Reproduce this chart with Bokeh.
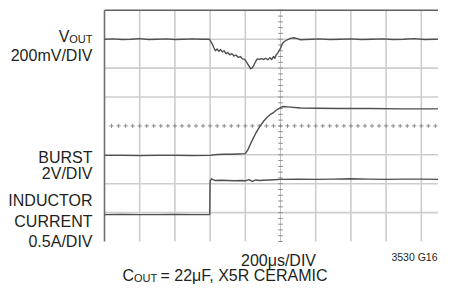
from bokeh.plotting import figure
from bokeh.models import Range1d, Label
from bokeh.embed import file_html
from bokeh.resources import INLINE

# ---- data (time in microseconds, trace levels in screen divisions) ----
vout_t = [0, 50, 100, 150, 200, 250, 300, 350, 400, 450, 500, 550,
          596, 604, 612, 620, 630, 640, 650, 660, 670, 680, 690, 700,
          712, 724, 736, 748, 760, 772, 784, 796, 806, 816, 824, 830,
          838, 848, 858, 868, 880, 892, 904, 916, 928, 940, 950, 960,
          968, 976, 984, 992, 1000, 1010, 1022, 1038, 1056, 1076, 1096, 1114,
          1140, 1180, 1220, 1280, 1340, 1400, 1460, 1520, 1580, 1640, 1700, 1760,
          1820, 1880, 1940, 2000]
vout = [7.00, 7.01, 6.99, 7.00, 7.02, 6.99, 7.00, 7.01, 6.99, 7.00, 7.01, 7.00,
        7.00, 6.92, 6.84, 6.72, 6.60, 6.66, 6.58, 6.64, 6.56, 6.60, 6.50, 6.54,
        6.46, 6.50, 6.42, 6.45, 6.37, 6.40, 6.32, 6.30, 6.22, 6.12, 6.04, 5.98,
        6.00, 6.09, 6.22, 6.32, 6.30, 6.33, 6.30, 6.34, 6.29, 6.36, 6.30, 6.40,
        6.34, 6.46, 6.52, 6.60, 6.68, 6.84, 6.92, 6.98, 7.03, 7.05, 7.02, 6.98,
        6.99, 7.00, 7.01, 6.99, 7.00, 7.01, 6.99, 7.00, 7.01, 6.99, 7.00, 7.02,
        6.99, 7.00, 7.01, 7.00]

burst_t = [0, 100, 200, 300, 400, 500, 600, 640, 680, 720,
           760, 800, 815, 830, 845, 858, 872, 886, 905, 924,
           943, 962, 976, 990, 1012, 1056, 1114, 1200, 1340, 1500,
           1700, 2000]
burst = [2.98, 2.98, 2.97, 2.98, 2.98, 2.97, 2.98, 3.01, 3.02, 3.02,
         3.03, 3.04, 3.18, 3.38, 3.57, 3.73, 3.88, 4.01, 4.17, 4.30,
         4.40, 4.47, 4.54, 4.60, 4.67, 4.65, 4.62, 4.61, 4.60, 4.60,
         4.59, 4.59]

ind_t = [0, 100, 200, 300, 400, 500, 580, 598, 600, 608,
         616, 630, 660, 700, 740, 780, 800, 820, 840, 860,
         880, 900, 940, 1000, 1100, 1200, 1300, 1400, 1500, 1600,
         1700, 1800, 1900, 2000]
ind = [0.93, 0.94, 0.93, 0.93, 0.94, 0.93, 0.93, 0.93, 2.10, 2.17,
       2.14, 2.11, 2.12, 2.11, 2.10, 2.11, 2.10, 2.14, 2.08, 2.13,
       2.11, 2.12, 2.13, 2.15, 2.16, 2.15, 2.16, 2.17, 2.16, 2.15,
       2.16, 2.16, 2.15, 2.16]

x_divs = list(range(0, 11))   # graticule columns
y_divs = list(range(0, 9))    # graticule rows
US_PER_DIV = 200

# ---- layout ----
W, H = 438, 286
PX_X = 35.2
PX_Y = 28.9
X0_PX = 104
Y0_PX = 241

x_start = -X0_PX / PX_X * US_PER_DIV
x_end = x_start + W / PX_X * US_PER_DIV
y_end = Y0_PX / PX_Y
y_start = y_end - H / PX_Y


def px(xp):
    return x_start + xp / PX_X * US_PER_DIV


def py(yp):
    return y_end - yp / PX_Y


p = figure(width=W, height=H, x_range=Range1d(x_start, x_end),
           y_range=Range1d(y_start, y_end), output_backend="svg",
           toolbar_location=None, min_border=0,
           x_axis_location=None, y_axis_location=None)
p.grid.visible = False
p.outline_line_color = None
p.background_fill_color = "white"
p.border_fill_color = "white"

GRID = "#cdcdcd"
XMAX = x_divs[-1] * US_PER_DIV
YMAX = y_divs[-1]

# vertical grid lines
vx = [d * US_PER_DIV for d in x_divs[1:] if d != 5]
p.multi_line(xs=[[x, x] for x in vx], ys=[[0, YMAX] for _ in vx],
             line_color=GRID, line_width=1.6)
# horizontal grid lines
hy = [d for d in y_divs[1:-1] if d != 4]
p.multi_line(xs=[[0, XMAX] for _ in hy], ys=[[y, y] for y in hy],
             line_color=GRID, line_width=1.6)

# centre vertical line with minor ticks
cx = 5 * US_PER_DIV
p.line([cx, cx], [0, YMAX], line_color="#c4c4c4", line_width=1)
ty = [k * 0.2 for k in range(0, 41)]
p.multi_line(xs=[[cx - 13, cx + 13] for _ in ty], ys=[[y, y] for y in ty],
             line_color="#8a8a8a", line_width=1)
# centre horizontal line made of tick crosses
tx = [k * 0.2 * US_PER_DIV for k in range(1, 50)]
p.multi_line(xs=[[x - 12, x + 12] for x in tx], ys=[[4, 4] for _ in tx],
             line_color="#8a8a8a", line_width=1)
p.multi_line(xs=[[x, x] for x in tx], ys=[[3.93, 4.07] for _ in tx],
             line_color="#8a8a8a", line_width=1)

# borders (left and top)
p.line([0, 0], [0, YMAX], line_color="#707070", line_width=1.6)
p.line([0, XMAX], [YMAX, YMAX], line_color="#606060", line_width=1.6)

# traces
TRACE = "#4f4f4f"
for t, v in ((vout_t, vout), (burst_t, burst), (ind_t, ind)):
    p.line(t, v, line_color=TRACE, line_width=1.4, line_join="round")

# ---- text ----
FONT = "Liberation Sans"
TXT = "#231f20"


def lab(text, xp, yp, size="16px", align="right"):
    p.add_layout(Label(x=px(xp), y=py(yp), text=text, text_align=align,
                       text_baseline="alphabetic", text_font=FONT,
                       text_font_size=size, text_color=TXT))


lab("V", 69, 35.5)
lab("OUT", 92, 38, size="11px")
lab("200mV/DIV", 92, 55)
lab("BURST", 92, 156.5)
lab("2V/DIV", 92, 172.5)
lab("INDUCTOR", 92, 200)
lab("CURRENT", 92, 220.5)
lab("0.5A/DIV", 92, 241)
lab("200\u03bcs/DIV", 278, 260, align="center")
lab("3530 G16", 437, 256, size="10.5px")
lab("C", 122, 275, align="left")
lab("OUT", 133.5, 277, size="11px", align="left")
lab("= 22\u03bcF, X5R CERAMIC", 160, 275, align="left")

open("out.html", "w").write(file_html(p, INLINE))
